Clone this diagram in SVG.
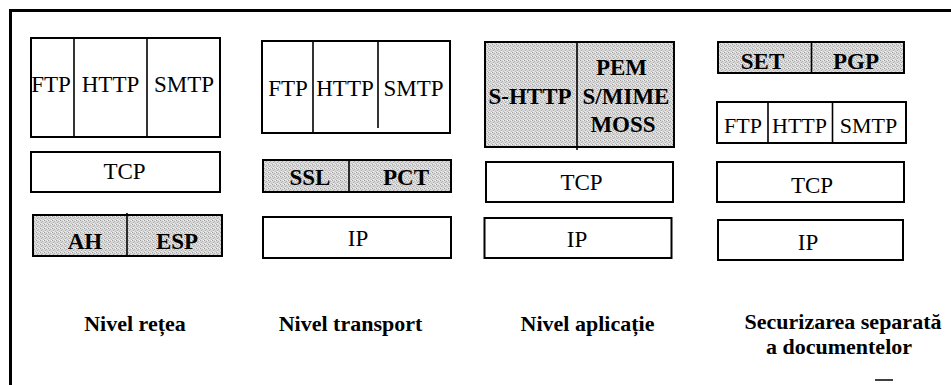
<svg xmlns="http://www.w3.org/2000/svg" width="951" height="385" viewBox="0 0 951 385">
  <defs>
    <!-- dithered grey used for the security-protocol layers -->
    <pattern id="dither" width="4" height="4" patternUnits="userSpaceOnUse">
      <rect width="4" height="4" fill="#d8d8d8"/>
      <rect x="0" y="0" width="1" height="1" fill="#a0a0a0"/>
      <rect x="2" y="1" width="1" height="1" fill="#b4b4b4"/>
      <rect x="1" y="2" width="1" height="1" fill="#a8a8a8"/>
      <rect x="3" y="3" width="1" height="1" fill="#bcbcbc"/>
      <rect x="3" y="0" width="1" height="1" fill="#f0f0f0"/>
      <rect x="1" y="3" width="1" height="1" fill="#f2f2f2"/>
    </pattern>
    <style>
      .box { fill: #ffffff; stroke: #000; stroke-width: 2; }
      .sec { fill: url(#dither); stroke: #000; stroke-width: 2; }
      .div { stroke: #000; stroke-width: 1.6; }
      .t { font-family: "Liberation Serif", "Times New Roman", serif; font-size: 23px; fill: #000; text-anchor: middle; }
      .ts { font-family: "Liberation Serif", "Times New Roman", serif; font-size: 22px; fill: #000; text-anchor: middle; }
      .b { font-family: "Liberation Serif", "Times New Roman", serif; font-size: 23px; font-weight: bold; fill: #000; text-anchor: middle; }
      .lbl { font-family: "Liberation Serif", "Times New Roman", serif; font-size: 22px; font-weight: bold; fill: #000; text-anchor: middle; }
    </style>
  </defs>

  <rect width="951" height="385" fill="#ffffff"/>

  <!-- outer frame: top and left edges -->
  <g id="frame" fill="none" stroke="#000" stroke-width="3">
    <path d="M951 10.5 H10.5 V385"/>
  </g>

  <!-- column 1: network level -->
  <g id="net-app">
    <rect class="box" x="31" y="38" width="189" height="99"/>
    <line class="div" x1="74" y1="38" x2="74" y2="137"/>
    <line class="div" x1="147" y1="38" x2="147" y2="137"/>
    <text class="t" x="51" y="92">FTP</text>
    <text class="t" x="110.5" y="92">HTTP</text>
    <text class="t" x="184" y="92">SMTP</text>
  </g>
  <g id="net-tcp">
    <rect class="box" x="31" y="152" width="189" height="40"/>
    <text class="t" x="124.5" y="178.5">TCP</text>
  </g>
  <g id="net-ipsec">
    <rect class="sec" x="33" y="215" width="189" height="41"/>
    <line class="div" x1="127" y1="213" x2="127" y2="256"/>
    <text class="b" x="85" y="249">AH</text>
    <text class="b" x="177" y="249">ESP</text>
  </g>
  <text id="lbl-net" class="lbl" x="135" y="331">Nivel rețea</text>

  <!-- column 2: transport level -->
  <g id="tr-app">
    <rect class="box" x="262" y="41" width="188" height="92"/>
    <line class="div" x1="313" y1="41" x2="313" y2="133"/>
    <line class="div" x1="378" y1="41" x2="378" y2="128"/>
    <text class="t" x="288" y="95.5">FTP</text>
    <text class="t" x="345" y="95.5">HTTP</text>
    <text class="t" x="413.5" y="95.5">SMTP</text>
  </g>
  <g id="tr-sec">
    <rect class="sec" x="263" y="160" width="188" height="32"/>
    <line class="div" x1="349" y1="160" x2="349" y2="192"/>
    <text class="b" x="310" y="185">SSL</text>
    <text class="b" x="406" y="185">PCT</text>
  </g>
  <g id="tr-ip">
    <rect class="box" x="263" y="217" width="188" height="41"/>
    <text class="t" x="358" y="246">IP</text>
  </g>
  <text id="lbl-tr" class="lbl" x="350.5" y="331">Nivel transport</text>

  <!-- column 3: application level -->
  <g id="app-sec">
    <rect class="sec" x="485" y="42" width="189" height="105"/>
    <line class="div" x1="577" y1="42" x2="577" y2="150"/>
    <text class="b" x="530" y="103.5">S-HTTP</text>
    <text class="b" x="621.5" y="75">PEM</text>
    <text class="b" x="626" y="103.5">S/MIME</text>
    <text class="b" x="623" y="131.5">MOSS</text>
  </g>
  <g id="app-tcp">
    <rect class="box" x="486" y="162" width="187" height="40"/>
    <text class="t" x="581.5" y="190">TCP</text>
  </g>
  <g id="app-ip">
    <rect class="box" x="484.5" y="218" width="187" height="40"/>
    <text class="t" x="577" y="246.5">IP</text>
  </g>
  <text id="lbl-app" class="lbl" x="587.5" y="331">Nivel aplicație</text>

  <!-- column 4: separate document security -->
  <g id="doc-sec">
    <rect class="sec" x="718" y="42" width="186" height="31"/>
    <line class="div" x1="811.5" y1="42" x2="811.5" y2="73"/>
    <text class="b" x="762.5" y="68.5">SET</text>
    <text class="b" x="856" y="68.5">PGP</text>
  </g>
  <g id="doc-app">
    <rect class="box" x="717" y="102" width="189" height="41"/>
    <line class="div" x1="768" y1="102" x2="768" y2="143"/>
    <line class="div" x1="832.5" y1="102" x2="832.5" y2="143"/>
    <text class="ts" x="743" y="133">FTP</text>
    <text class="ts" x="799.5" y="133">HTTP</text>
    <text class="ts" x="868.5" y="133">SMTP</text>
  </g>
  <g id="doc-tcp">
    <rect class="box" x="717" y="162" width="187" height="40"/>
    <text class="t" x="812" y="193">TCP</text>
  </g>
  <g id="doc-ip">
    <rect class="box" x="718" y="220" width="185" height="40"/>
    <text class="t" x="808" y="250">IP</text>
  </g>
  <text id="lbl-doc" class="lbl" x="843" y="329">Securizarea separată</text>
  <text id="lbl-doc2" class="lbl" x="839" y="354">a documentelor</text>

  <!-- short rule at the bottom edge -->
  <line x1="875" y1="380" x2="893" y2="380" stroke="#000" stroke-width="1.5"/>
</svg>
